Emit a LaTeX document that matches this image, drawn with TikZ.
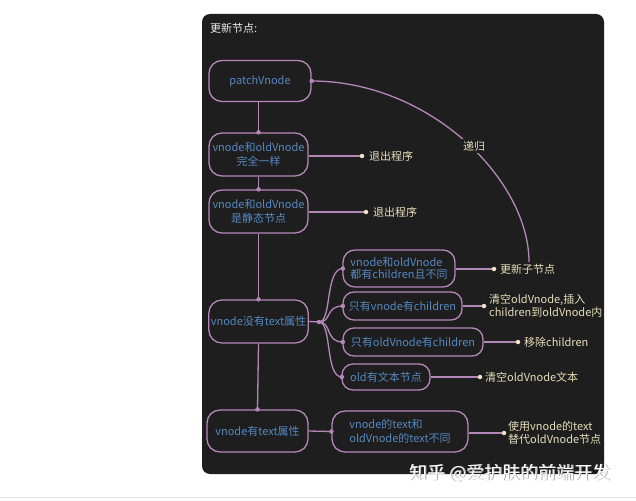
\documentclass[tikz,border=0pt]{standalone}
\usepackage{fontspec}
\setmainfont{Noto Sans CJK SC}
\definecolor{panel}{HTML}{1E1E1F}
\definecolor{lineC}{HTML}{B587B8}
\definecolor{nodeT}{HTML}{5688C0}
\definecolor{labT}{HTML}{E6DDB8}
\definecolor{dotC}{HTML}{EDE6C8}
\begin{document}
\begin{tikzpicture}[x=1pt,y=-1pt,
  box/.style={draw=lineC,line width=1.3pt,fill=panel,text=nodeT,rounded corners=13pt,
    inner sep=2pt,font=\fontsize{11}{13.5}\selectfont},
  lab/.style={text=labT,anchor=west,inner sep=0pt,align=left,font=\fontsize{11}{12.5}\selectfont},
  conn/.style={draw=lineC,line width=1.3pt},
  pdot/.style={circle,fill=lineC,inner sep=0pt,minimum size=4.5pt},
  cdot/.style={circle,fill=dotC,inner sep=0pt,minimum size=4.5pt}]
\useasboundingbox (0,0) rectangle (636,500);
\fill[white] (0,0) rectangle (636,500);
\draw[black!12,line width=0.8pt] (0,497) -- (636,497);
\fill[panel,rounded corners=8pt] (202,14) rectangle (604,474);
\node[anchor=west,text=white!92!black,inner sep=0pt,font=\fontsize{11}{12}\selectfont] (title) at (210,28) {更新节点:};

% main column
\node[box,minimum width=102pt,minimum height=41pt] (p) at (260,81) {patchVnode};
\node[box,minimum width=99pt,minimum height=43pt,align=center] (n2) at (258.5,154.5) {vnode和oldVnode\\完全一样};
\node[box,minimum width=99pt,minimum height=43pt,align=center] (n3) at (258.5,211.5) {vnode和oldVnode\\是静态节点};
\node[box,minimum width=99pt,minimum height=43pt] (n4) at (258.5,321.5) {vnode没有text属性};
\node[box,minimum width=101pt,minimum height=42pt] (n5) at (257.5,431) {vnode有text属性};

\draw[conn] (p.south -| n2.north) -- (n2.north) node[pdot]{};
\draw[conn] (n2.south) -- (n3.north) node[pdot]{};
\draw[conn] (n3.south) -- (n4.north) node[pdot]{};
\draw[conn] (n4.south) -- (n5.north) node[pdot]{};

% exits
\coordinate (e1) at (362,156);
\coordinate (e2) at (366,212);
\draw[conn] (n2.east |- e1) -- (e1) node[cdot]{};
\draw[conn] (n3.east |- e2) -- (e2) node[cdot]{};
\node[lab] (l1) at (369,156) {退出程序};
\node[lab] (l2) at (373,212) {退出程序};

% children of n4
\node[box,minimum width=112pt,minimum height=37pt,align=left,rounded corners=12pt,font=\fontsize{11}{12.5}\selectfont] (c1) at (399,268.5) {vnode和oldVnode\\都有children且不同};
\node[box,minimum width=119pt,minimum height=28pt,rounded corners=11pt] (c2) at (402.5,306) {只有vnode有children};
\node[box,minimum width=140pt,minimum height=28pt,rounded corners=11pt] (c3) at (413,342) {只有oldVnode有children};
\node[box,minimum width=88pt,minimum height=26pt,rounded corners=11pt] (c4) at (386,377) {old有文本节点};

\coordinate (b) at (319,322);
\draw[conn] (n4.east) -- (b);
\foreach \c in {c1,c2,c3,c4}{
  \draw[conn] (b) .. controls (332,322) and (325,0 |- \c.west) .. ([xshift=0.5pt]\c.west) node[pdot]{};
}
\node[pdot] at (b) {};

\coordinate (d1) at (494,269);
\coordinate (d2) at (484,306);
\coordinate (d3) at (518,342);
\coordinate (d4) at (480,377);
\draw[conn] (c1.east |- d1) -- (d1) node[cdot]{};
\draw[conn] (c2.east |- d2) -- (d2) node[cdot]{};
\draw[conn] (c3.east |- d3) -- (d3) node[cdot]{};
\draw[conn] (c4.east |- d4) -- (d4) node[cdot]{};
\node[lab] (l3) at (500,269) {更新子节点};
\node[lab] (l4) at (489,306) {清空oldVnode,插入\\children到oldVnode内};
\node[lab] (l5) at (524,342) {移除children};
\node[lab] (l6) at (485,377) {清空oldVnode文本};

% n5 child
\node[box,minimum width=136pt,minimum height=41pt,align=left] (c5) at (400,431.5) {vnode的text和\\oldVnode的text不同};
\draw[conn] (n5.east) -- (c5.west) node[pdot]{};
\coordinate (d5) at (504,433);
\draw[conn] (c5.east |- d5) -- (d5) node[cdot]{};
\node[lab] (l7) at (508,433) {使用vnode的text\\替代oldVnode节点};

% recursion arc
\coordinate (r) at (529,262);
\draw[conn] (p.east) .. controls (430,81) and (529,180) .. (r);
\node[pdot] at (p.east) {};
\node[fill=panel,text=labT,inner sep=1.5pt,font=\fontsize{11}{12}\selectfont] (rl) at (474,146) {递归};

% watermark
\node[anchor=west,text=black!35,inner sep=0pt,font=\fontsize{18}{20}\selectfont] at (409.8,473.8) {知乎 @爱护肤的前端开发};
\node[anchor=west,text=white,inner sep=0pt,font=\fontsize{18}{20}\selectfont] (wm) at (409,473) {知乎 @爱护肤的前端开发};
\end{tikzpicture}
\end{document}
